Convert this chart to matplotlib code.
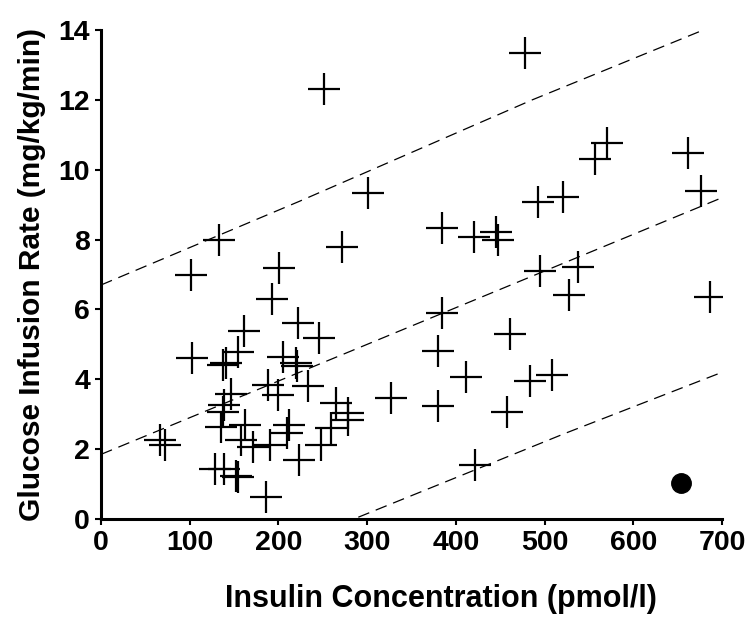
import numpy as np
import matplotlib
matplotlib.use("Agg")
import matplotlib.pyplot as plt

plt.rcParams['font.family'] = ['Liberation Sans', 'DejaVu Sans']
plt.rcParams['lines.scale_dashes'] = False

# insulin (pmol/l) vs glucose infusion rate (mg/kg/min)
insulin = [478, 251, 301, 133, 101, 201, 193, 272,
           161, 222, 246, 102, 137, 141, 154, 205, 220, 221, 188, 199, 233,
           147, 139, 137, 135, 162, 158, 171, 190, 212, 210, 223, 248,
           265, 278, 278, 259, 66, 72, 128, 139, 152, 154, 186,
           570, 557, 662, 676, 492, 521, 384, 420, 445, 448, 495, 538, 527, 687,
           384, 461, 380, 411, 483, 508, 327, 380, 458, 422]
glucose = [13.35, 12.3, 9.33, 8.0, 7.0, 7.18, 6.3, 7.78,
           5.38, 5.6, 5.17, 4.6, 4.42, 4.46, 4.79, 4.65, 4.46, 4.38, 3.85, 3.55, 3.8,
           3.58, 3.26, 3.07, 2.62, 2.69, 2.26, 2.07, 2.12, 2.69, 2.47, 1.69, 2.12,
           3.31, 3.03, 2.83, 2.6, 2.26, 2.12, 1.42, 1.44, 1.23, 1.2, 0.64,
           10.76, 10.3, 10.47, 9.4, 9.08, 9.23, 8.34, 8.08, 8.22, 8.0, 7.11, 7.22, 6.41, 6.36,
           5.89, 5.29, 4.81, 4.07, 3.95, 4.12, 3.47, 3.24, 3.05, 1.55]

# single filled point
dot_x = [654]
dot_y = [1.04]

# dashed lines (upper, middle, lower)
upper_x = [0, 224, 486, 674]
upper_y = [6.7, 9.1, 12.0, 13.95]
mid_x = [0, 700]
mid_y = [1.85, 9.2]
low_x = [290, 523, 700]
low_y = [0.05, 2.45, 4.2]

fig = plt.figure(figsize=(7.54, 6.26), dpi=100)
ax = fig.add_axes([0.134, 0.171, 0.8236, 0.781])

for lx, ly in [(upper_x, upper_y), (mid_x, mid_y), (low_x, low_y)]:
    ax.plot(lx, ly, color='black', lw=0.9, linestyle=(0, (8.5, 5)))

ax.plot(insulin, glucose, linestyle='none', marker='+', markersize=22.5,
        markeredgewidth=1.6, color='black')
ax.plot(dot_x, dot_y, linestyle='none', marker='o', markersize=14, color='black')

ax.set_xlim(0, 700)
ax.set_ylim(0, 14)
ax.set_xticks(range(0, 701, 100))
ax.set_yticks(range(0, 15, 2))
ax.spines['top'].set_visible(False)
ax.spines['right'].set_visible(False)
ax.spines['left'].set_linewidth(2.2)
ax.spines['bottom'].set_linewidth(2.2)
ax.tick_params(length=4, width=1.5, labelsize=20.5, pad=4)
for lab in ax.get_xticklabels() + ax.get_yticklabels():
    lab.set_fontweight('bold')

ax.set_xlabel('Insulin Concentration (pmol/l)', fontsize=22, fontweight='bold', labelpad=20)
ax.xaxis.label.set_x(0.547)   # label sits a bit right of centre in the original
ax.set_ylabel('Glucose Infusion Rate (mg/kg/min)', fontsize=21.5, fontweight='bold', labelpad=9)

fig.savefig('out.png', dpi=100)
